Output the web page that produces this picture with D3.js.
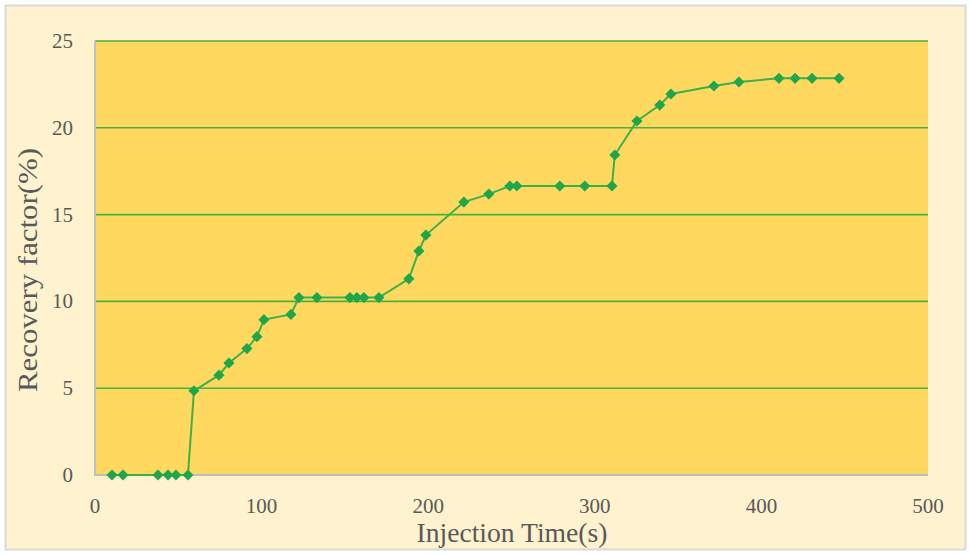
<!DOCTYPE html>
<html><head><meta charset="utf-8">
<script src="https://cdn.jsdelivr.net/npm/d3@7"></script>
<style>body{margin:0;background:#fff}svg{display:block}</style>
</head><body>
<script>
const injectionTime = [10.2,16.8,37.8,43.8,48.6,55.8,59.4,74.4,80.4,91.2,97.2,101.4,117.6,122.4,133.2,153,157.2,161.4,170.4,188.4,194.4,198.6,221.4,236.4,249,253.2,279,294,310.3,312,325.3,339,345.7,371.5,386.5,410.5,420.2,430.4,446.6];
const recoveryFactor = [0,0,0,0,0,0,4.85,5.75,6.45,7.28,7.97,8.95,9.25,10.22,10.22,10.22,10.22,10.22,10.22,11.3,12.9,13.82,15.72,16.18,16.65,16.65,16.65,16.65,16.65,18.43,20.39,21.31,21.95,22.41,22.64,22.85,22.85,22.85,22.85];
const xTicks = [0,100,200,300,400,500];
const yTicks = [0,5,10,15,20,25];

const W=969,H=555;
const svg=d3.select("body").append("svg").attr("width",W).attr("height",H);
svg.append("rect").attr("x",5.5).attr("y",5.5).attr("width",960).attr("height",544)
  .attr("fill","#FFF2CF").attr("stroke","#D9D9D9").attr("stroke-width",2);

const m={l:95,r:928,t:41,b:475};
const x=d3.scaleLinear().domain([0,500]).range([m.l,m.r]);
const y=d3.scaleLinear().domain([0,25]).range([m.b,m.t]);

svg.append("rect").attr("x",m.l).attr("y",m.t).attr("width",m.r-m.l).attr("height",m.b-m.t).attr("fill","#FFD95F");

svg.append("g").selectAll("line").data(yTicks.filter(d=>d>0)).join("line")
  .attr("x1",m.l).attr("x2",m.r).attr("y1",d=>y(d)).attr("y2",d=>y(d))
  .attr("stroke","#4CAF3F").attr("stroke-width",1.6);

// axis lines
svg.append("line").attr("x1",m.l).attr("x2",m.l).attr("y1",m.t).attr("y2",m.b+1).attr("stroke","#BFBFBF").attr("stroke-width",2);
svg.append("line").attr("x1",m.l-1).attr("x2",m.r).attr("y1",m.b).attr("y2",m.b).attr("stroke","#BFBFBF").attr("stroke-width",2);

const font="'Liberation Serif','Times New Roman',serif";
svg.append("g").selectAll("text").data(yTicks).join("text")
  .attr("x",73).attr("y",d=>y(d)+7).attr("text-anchor","end")
  .attr("font-family",font).attr("font-size",21).attr("fill","#595959").text(d=>d);
svg.append("g").selectAll("text").data(xTicks).join("text")
  .attr("x",d=>x(d)).attr("y",513).attr("text-anchor","middle")
  .attr("font-family",font).attr("font-size",21).attr("fill","#595959").text(d=>d);

svg.append("text").attr("x",512).attr("y",542).attr("text-anchor","middle")
  .attr("font-family",font).attr("font-size",28).attr("fill","#595959")
  .attr("textLength",191).attr("lengthAdjust","spacingAndGlyphs").text("Injection Time(s)");
svg.append("text").attr("transform","translate(37,270) rotate(-90)").attr("text-anchor","middle")
  .attr("font-family",font).attr("font-size",27).attr("fill","#595959")
  .attr("textLength",244).attr("lengthAdjust","spacingAndGlyphs").text("Recovery factor(%)");

const data=injectionTime.map((t,i)=>[t,recoveryFactor[i]]);
svg.append("path").datum(data).attr("fill","none").attr("stroke","#3DB04A").attr("stroke-width",2)
  .attr("d",d3.line().x(d=>x(d[0])).y(d=>y(d[1])));
svg.append("g").selectAll("path").data(data).join("path")
  .attr("transform",d=>`translate(${x(d[0])},${y(d[1])}) rotate(45)`)
  .attr("d",d3.symbol(d3.symbolSquare,62))
  .attr("fill","#1FA64B");
</script>
</body></html>
